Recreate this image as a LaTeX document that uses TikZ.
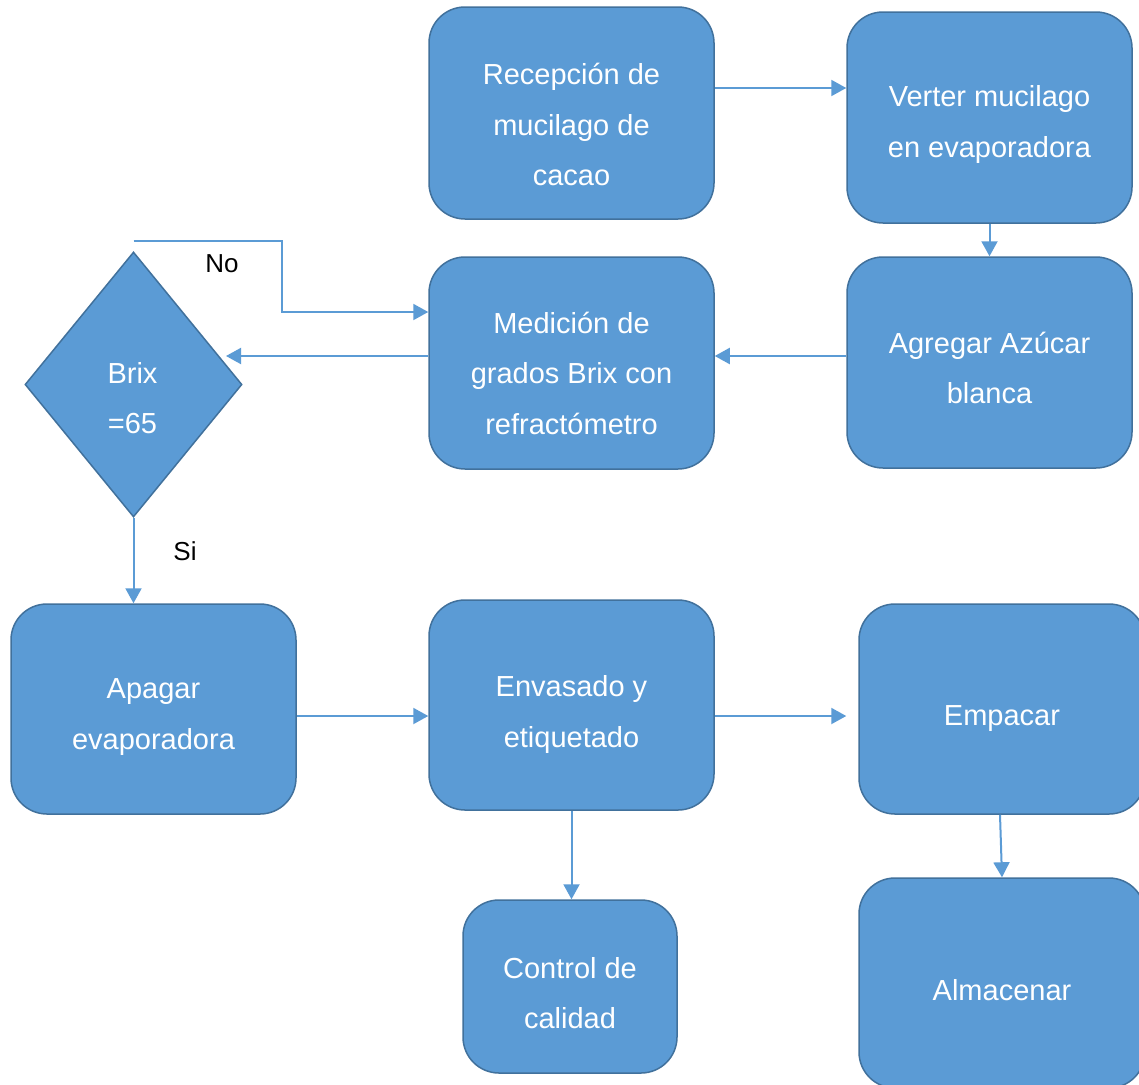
\documentclass[tikz,border=0pt]{standalone}
\usepackage{fontspec}
\setmainfont{Liberation Sans}
\usetikzlibrary{shapes.geometric,arrows.meta}
\definecolor{boxfill}{HTML}{5B9BD5}
\definecolor{boxline}{HTML}{41719C}
\definecolor{arrcol}{HTML}{5B9BD5}
\newcommand\lst{\rule[-5pt]{0pt}{30.5pt}}
\begin{document}
\begin{tikzpicture}[x=1pt,y=-1pt,
  proc/.style={draw=boxline, line width=1.5pt, fill=boxfill, rounded corners=36pt, inner sep=0pt},
  dec/.style={shape=diamond, draw=boxline, line width=1.5pt, fill=boxfill, inner sep=0pt},
  txt/.style={text=white, font=\fontsize{29}{50.5}\selectfont, align=center, inner sep=0pt},
  lbl/.style={text=black, font=\fontsize{26}{30}\selectfont, inner sep=0pt},
  arr/.style={draw=arrcol, line width=2pt, -{Triangle[length=15pt,width=16pt]}}]
\fill[white] (0,0) rectangle (1139,1084);
\useasboundingbox (0,0) rectangle (1139,1084);

% boxes
\node[proc, minimum width=285pt, minimum height=212pt] (rec) at (571.5,113) {};
\node[proc, minimum width=285pt, minimum height=211pt] (ver) at (989.5,117.5) {};
\node[proc, minimum width=285pt, minimum height=212pt] (med) at (571.5,363) {};
\node[proc, minimum width=285pt, minimum height=211pt] (agr) at (989.5,362.5) {};
\node[dec, minimum width=217pt, minimum height=265pt] (dia) at (133.5,384.5) {};
\node[proc, minimum width=285pt, minimum height=210pt] (apa) at (153.5,709) {};
\node[proc, minimum width=285pt, minimum height=210pt] (env) at (571.5,705) {};
\node[proc, minimum width=286pt, minimum height=210pt] (emp) at (1002,709) {};
\node[proc, minimum width=214pt, minimum height=173pt] (ctl) at (570,986.5) {};
\node[proc, minimum width=286pt, minimum height=210pt] (alm) at (1002,983) {};
\coordinate (dtip) at (226,356);

% texts
\node[txt] (rec-t) at (571.5,125) {\lst Recepción de\\\lst mucilago de\\\lst cacao};
\node[txt] (ver-t) at (989.5,122.5) {\lst Verter mucilago\\\lst en evaporadora};
\node[txt] (med-t) at (571.5,373.5) {\lst Medición de\\\lst grados Brix con\\\lst refractómetro};
\node[txt] (agr-t) at (989.5,368) {\lst Agregar Azúcar\\\lst blanca};
\node[txt] (dia-t) at (132.5,398) {\lst Brix\\\lst =65};
\node[txt] (apa-t) at (153.5,714) {\lst Apagar\\\lst evaporadora};
\node[txt] (env-t) at (571.5,712) {\lst Envasado y\\\lst etiquetado};
\node[txt] (emp-t) at (1002,716) {\lst Empacar};
\node[txt] (ctl-t) at (570,993) {\lst Control de\\\lst calidad};
\node[txt] (alm-t) at (1002,990) {\lst Almacenar};

% labels
\node[lbl] (no) at (222,264) {No};
\node[lbl] (si) at (185,551) {Si};

% connectors
\draw[arr] (rec.east |- 0,88) -- (ver.west |- 0,88);
\draw[arr] (ver.south) -- (agr.north);
\draw[arr] (agr.west |- 0,356) -- (med.east |- 0,356);
\draw[arr] (med.west |- dtip) -- (dtip);
\draw[arr] ([yshift=10pt]dia.north) -- ++(148.5,0) |- (med.west |- 0,312);
\draw[arr] (dia.south) -- (dia.south |- apa.north);
\draw[arr] (apa.east |- 0,716) -- (env.west |- 0,716);
\draw[arr, shorten >=12pt] (env.east |- 0,716) -- (emp.west |- 0,716);
\draw[arr] (env.south) -- (env.south |- ctl.north);
\draw[arr] ([xshift=-2pt]emp.south) -- (alm.north);
\end{tikzpicture}
\end{document}
